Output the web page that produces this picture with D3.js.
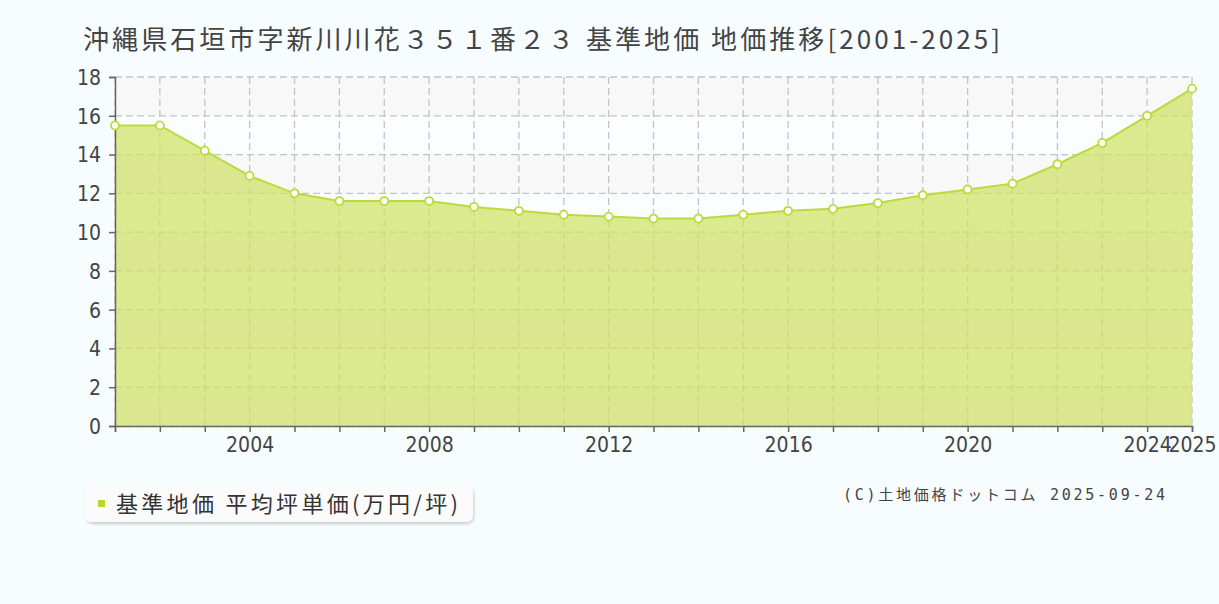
<!DOCTYPE html>
<html>
<head>
<meta charset="utf-8">
<script src="https://cdn.jsdelivr.net/npm/d3@7"></script>
<style>
  body { margin: 0; background: #f7fcfe; }
  svg text { font-family: "Noto Sans CJK JP", "DejaVu Sans", sans-serif; }
</style>
</head>
<body>
<svg id="chart" width="1219" height="604"></svg>
<script>
// chart data
var years = [2001, 2002, 2003, 2004, 2005, 2006, 2007, 2008, 2009, 2010, 2011, 2012, 2013,
             2014, 2015, 2016, 2017, 2018, 2019, 2020, 2021, 2022, 2023, 2024, 2025];
var prices = [15.5, 15.5, 14.2, 12.9, 12.0, 11.6, 11.6, 11.6, 11.3, 11.1, 10.9, 10.8, 10.7,
              10.7, 10.9, 11.1, 11.2, 11.5, 11.9, 12.2, 12.5, 13.5, 14.6, 16.0, 17.4];
var yTicks = [0, 2, 4, 6, 8, 10, 12, 14, 16, 18];
var xLabels = [2004, 2008, 2012, 2016, 2020, 2024, 2025];
var titleText = "沖縄県石垣市字新川川花３５１番２３ 基準地価 地価推移[2001-2025]";
var legendText = "基準地価 平均坪単価(万円/坪)";
var creditText = "(C)土地価格ドットコム 2025-09-24";

var margin = {top: 77, left: 115, right: 27, bottom: 178};
var width = 1219 - margin.left - margin.right;
var height = 604 - margin.top - margin.bottom;

var svg = d3.select("#chart");
var g = svg.append("g")
    .attr("transform", "translate(" + margin.left + "," + margin.top + ")");

var x = d3.scaleLinear().domain([2001, 2025]).range([0, width]);
var y = d3.scaleLinear().domain([0, 18]).range([height, 0]);

// alternating bands
for (var i = 0; i < yTicks.length - 1; i++) {
    g.append("rect")
        .attr("x", 0)
        .attr("y", y(yTicks[i + 1]))
        .attr("width", width)
        .attr("height", y(yTicks[i]) - y(yTicks[i + 1]))
        .attr("fill", i % 2 === 0 ? "#f9f8f9" : "#fafefe");
}

// grid
g.selectAll(".hgrid").data(yTicks).enter().append("line")
    .attr("x1", 0).attr("x2", width)
    .attr("y1", function (d) { return y(d); })
    .attr("y2", function (d) { return y(d); })
    .attr("stroke", "#c4c4c4").attr("stroke-width", 1.3)
    .attr("stroke-dasharray", "7,4");

g.selectAll(".vgrid").data(years).enter().append("line")
    .attr("x1", function (d) { return x(d); })
    .attr("x2", function (d) { return x(d); })
    .attr("y1", 0).attr("y2", height)
    .attr("stroke", "#c4c4c4").attr("stroke-width", 1.3)
    .attr("stroke-dasharray", "7,4");

var pts = years.map(function (d, i) { return [d, prices[i]]; });

var area = d3.area()
    .x(function (d) { return x(d[0]); })
    .y0(height)
    .y1(function (d) { return y(d[1]); });

var line = d3.line()
    .x(function (d) { return x(d[0]); })
    .y(function (d) { return y(d[1]); });

g.append("path")
    .datum(pts)
    .attr("d", area)
    .attr("fill", "#cfe064")
    .attr("fill-opacity", 0.72);

g.append("path")
    .datum(pts)
    .attr("d", line)
    .attr("fill", "none")
    .attr("stroke", "#bbdb3a")
    .attr("stroke-width", 2);

// axes
var yAxis = d3.axisLeft(y).tickValues(yTicks).tickSize(6).tickPadding(8);
var xAxis = d3.axisBottom(x).tickValues(years).tickSize(6).tickPadding(5)
    .tickFormat(function (d) { return xLabels.indexOf(d) >= 0 ? d : ""; });

var ya = g.append("g").call(yAxis);
var xa = g.append("g").attr("transform", "translate(0," + height + ")").call(xAxis);

[ya, xa].forEach(function (a) {
    a.select(".domain").attr("stroke", "#666").attr("stroke-width", 1.5);
    a.selectAll(".tick line").attr("stroke", "#666").attr("stroke-width", 1.5);
    a.selectAll("text")
        .attr("fill", "#444")
        .attr("font-size", 21)
        .style("font-family", "'Liberation Sans Narrow', 'DejaVu Sans Condensed', sans-serif");
});
ya.selectAll("text").attr("dy", "0.35em");

// points
g.selectAll(".pt").data(pts).enter().append("circle")
    .attr("cx", function (d) { return x(d[0]); })
    .attr("cy", function (d) { return y(d[1]); })
    .attr("r", 4)
    .attr("fill", "#ffffff")
    .attr("stroke", "#bbdb3a")
    .attr("stroke-width", 1.8);

// title
svg.append("text")
    .attr("x", 83).attr("y", 49)
    .attr("font-size", 26)
    .attr("fill", "#444")
    .attr("textLength", 917)
    .attr("lengthAdjust", "spacing")
    .text(titleText);

// legend
var defs = svg.append("defs");
var f = defs.append("filter").attr("id", "sh").attr("x", "-10%").attr("y", "-30%")
    .attr("width", "120%").attr("height", "170%");
f.append("feDropShadow").attr("dx", 1).attr("dy", 2).attr("stdDeviation", 1.5)
    .attr("flood-color", "#000").attr("flood-opacity", 0.18);

svg.append("rect")
    .attr("x", 85).attr("y", 485).attr("width", 388).attr("height", 37)
    .attr("rx", 7)
    .attr("fill", "#fbfbfb")
    .attr("filter", "url(#sh)");

svg.append("rect")
    .attr("x", 98).attr("y", 500).attr("width", 7).attr("height", 7)
    .attr("fill", "#b5d92f");

svg.append("text")
    .attr("x", 116).attr("y", 512)
    .attr("font-size", 22)
    .attr("fill", "#333")
    .attr("textLength", 342)
    .attr("lengthAdjust", "spacing")
    .text(legendText);

// credit
svg.append("text")
    .attr("x", 843).attr("y", 500)
    .attr("font-size", 15)
    .attr("fill", "#444")
    .attr("textLength", 322)
    .attr("lengthAdjust", "spacing")
    .style("font-family", "'DejaVu Sans Mono', 'Noto Sans CJK JP', monospace")
    .text(creditText);
</script>
</body>
</html>
